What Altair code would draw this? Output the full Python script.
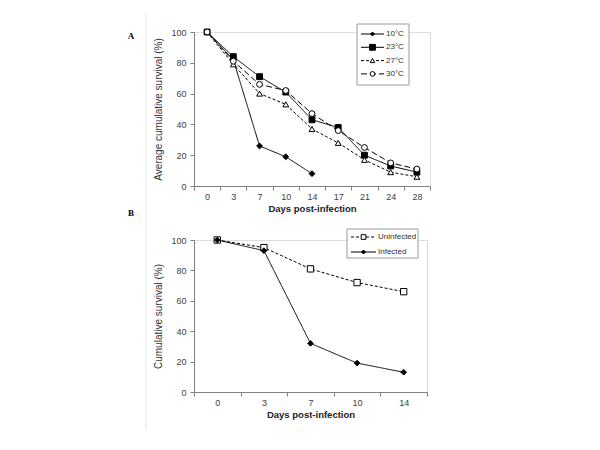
import altair as alt
import pandas as pd

# ---------------- data ----------------
days_a = ["0", "3", "7", "10", "14", "17", "21", "24", "28"]
series_a = ["10°C", "23°C", "27°C", "30°C"]
surv_10 = [100, 82, 26, 19, 8]
surv_23 = [100, 84, 71, 61, 43, 38, 20, 13, 9]
surv_27 = [100, 79, 60, 53, 37, 28, 17, 9, 6]
surv_30 = [100, 81, 66, 62, 47, 36, 25, 15, 11]

days_b = ["0", "3", "7", "10", "14"]
series_b = ["Uninfected", "Infected"]
surv_uninf = [100, 95, 81, 72, 66]
surv_inf = [100, 93, 32, 19, 13]


def long_df(days, series, values):
    rows = []
    for s, vals in zip(series, values):
        for d, v in zip(days, vals):
            rows.append({"day": d, "series": s, "survival": v})
    return pd.DataFrame(rows)


df_a = long_df(days_a, series_a, [surv_10, surv_23, surv_27, surv_30])
df_b = long_df(days_b, series_b, [surv_uninf, surv_inf])

FONT = "Liberation Sans"
AX = dict(domainColor="#808080", tickColor="#808080", labelColor="#404040",
          labelFont=FONT, labelFontSize=9, tickSize=4, grid=False, domainWidth=1)


def panel(df, days, series, dashes, shapes, fills, sizes, leg_sizes, width, height,
          ytitle, letter, letter_y, box, leg_y0, leg_step, leg_x, frame):
    xenc = alt.X("day:N", sort=days,
                 scale=alt.Scale(type="band", paddingInner=0, paddingOuter=0),
                 axis=alt.Axis(title="Days post-infection", labelAngle=0,
                               tickBand="extent", labelPadding=2,
                               titleFont=FONT, titleFontSize=9.5,
                               titleFontWeight="bold", titleColor="#222222",
                               titlePadding=2, **AX))
    yenc = alt.Y("survival:Q", scale=alt.Scale(domain=[0, 100]),
                 axis=alt.Axis(title=ytitle, values=[0, 20, 40, 60, 80, 100],
                               titleFont=FONT, titleFontSize=10,
                               titleFontWeight="normal", titleColor="#333333",
                               titlePadding=7, labelPadding=4, **AX))
    dash = alt.StrokeDash("series:N", scale=alt.Scale(domain=series, range=dashes), legend=None)
    shape = alt.Shape("series:N", scale=alt.Scale(domain=series, range=shapes), legend=None)
    fill = alt.Fill("series:N", scale=alt.Scale(domain=series, range=fills), legend=None)
    size = alt.Size("series:N", scale=alt.Scale(domain=series, range=sizes), legend=None)

    layers = []
    # faint frame line of the original figure
    layers.append(alt.Chart(pd.DataFrame({"f": [1]})).mark_rule(
        color="#e6e6e6", strokeWidth=1).encode(
        x=alt.value(-48), y=alt.value(frame[0]), y2=alt.value(frame[1])))

    layers.append(alt.Chart(df).mark_line(color="black", strokeWidth=1).encode(
        x=xenc, y=yenc, strokeDash=dash, detail="series:N"))
    layers.append(alt.Chart(df).mark_point(filled=True, stroke="black", strokeWidth=1,
                                           opacity=1).encode(
        x=xenc,
        y=alt.Y("survival:Q", scale=alt.Scale(domain=[0, 100]), axis=None),
        shape=shape, fill=fill, size=size))

    # legend box and entries
    layers.append(alt.Chart(pd.DataFrame({"box": [1]})).mark_rect(
        fill="white", stroke="#9a9a9a", strokeWidth=1).encode(
        x=alt.value(box[0]), x2=alt.value(box[1]),
        y=alt.value(box[2]), y2=alt.value(box[3])))
    leg_df = pd.DataFrame({"series": series})
    for i, s in enumerate(series):
        yy = leg_y0 + i * leg_step
        d = leg_df[leg_df["series"] == s]
        layers.append(alt.Chart(d).mark_rule(color="black", strokeWidth=1).encode(
            x=alt.value(leg_x[0]), x2=alt.value(leg_x[1]), y=alt.value(yy),
            strokeDash=dash))
        layers.append(alt.Chart(d).mark_point(filled=True, stroke="black", strokeWidth=1,
                                              opacity=1).encode(
            x=alt.value((leg_x[0] + leg_x[1]) / 2), y=alt.value(yy),
            shape=shape, fill=fill, size=alt.value(leg_sizes[i])))
        layers.append(alt.Chart(d).mark_text(align="left", baseline="middle", font=FONT,
                                             fontSize=8, color="#333333").encode(
            x=alt.value(leg_x[1] + 2), y=alt.value(yy), text="series:N"))

    layers.append(alt.Chart(pd.DataFrame({"l": [letter]})).mark_text(
        font="Liberation Serif", fontWeight="bold", fontSize=9, color="black").encode(
        x=alt.value(-63), y=alt.value(letter_y), text="l:N"))

    return alt.layer(*layers).resolve_scale(y="independent").properties(
        width=width, height=height)


pa = panel(df_a, days_a, series_a,
           [[1, 0], [1, 0], [3, 2], [6, 3]],
           ["diamond", "square", "triangle-up", "circle"],
           ["black", "black", "white", "white"],
           [34, 34, 34, 38],
           [16, 34, 22, 22],
           236, 154, "Average cumulative survival (%)", "A", 4,
           (163, 215, -8, 53), 2, 13.3, (167, 190), (-19, 209))

pb = panel(df_b, days_b, series_b,
           [[3, 2], [1, 0]],
           ["square", "diamond"],
           ["white", "black"],
           [40, 32],
           [22, 16],
           233, 152, "Cumulative survival (%)", "B", -27,
           (153, 224, -11, 18), -3, 15, (157, 182), (0, 190))

chart = alt.vconcat(pa, pb, spacing=54, bounds="flush").resolve_scale(
    strokeDash="independent", shape="independent", fill="independent",
    size="independent"
).properties(
    padding={"left": 119, "top": 4, "right": 5, "bottom": 5}
).configure_view(stroke=None).configure(background="white")

chart.save("out.html", embed_options={"renderer": "svg", "actions": False})
